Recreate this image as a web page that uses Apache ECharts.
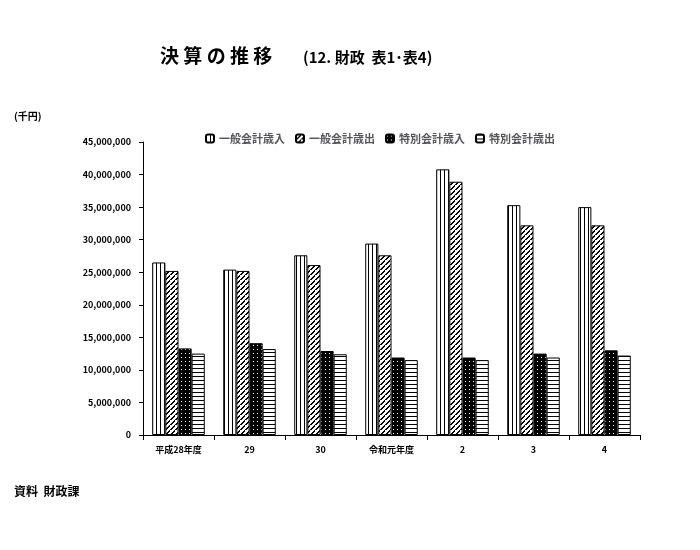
<!DOCTYPE html>
<html><head><meta charset="utf-8">
<script src="https://cdn.jsdelivr.net/npm/echarts@6/dist/echarts.min.js"></script>
<style>body{margin:0;background:#fff}#c{width:700px;height:550px}</style>
</head><body><div id="c"></div>
<script>
var categories = ['平成28年度', '29', '30', '令和元年度', '2', '3', '4'];
var seriesNames = ['一般会計歳入', '一般会計歳出', '特別会計歳入', '特別会計歳出'];
var ippanIn  = [26500000, 25400000, 27600000, 29400000, 40800000, 35300000, 35000000];
var ippanOut = [25200000, 25200000, 26100000, 27600000, 38900000, 32200000, 32200000];
var tokuIn   = [13300000, 14100000, 12900000, 11900000, 11900000, 12500000, 13000000];
var tokuOut  = [12500000, 13200000, 12400000, 11500000, 11500000, 11900000, 12200000];
var yTicks = [0, 5000000, 10000000, 15000000, 20000000, 25000000, 30000000, 35000000, 40000000, 45000000];

// 塗りパターン
function pat(kind) {
	var c = document.createElement('canvas');
	var s = 4;
	c.width = s; c.height = s;
	var g = c.getContext('2d');
	g.fillStyle = kind == 'dots' ? '#000' : '#fff';
	g.fillRect(0, 0, s, s);
	g.fillStyle = '#000';
	if (kind == 'vert') {
		g.fillRect(0, 0, 1, s);
	} else if (kind == 'horiz') {
		g.fillRect(0, 0, s, 1);
	} else if (kind == 'diag') {
		c.width = 5; c.height = 5;
		g = c.getContext('2d');
		g.fillStyle = '#fff'; g.fillRect(0, 0, 5, 5);
		g.fillStyle = '#000';
		for (var i = 0; i < 5; i++) { g.fillRect(4 - i, i, 2, 1); }
		g.fillRect(0, 4, 1, 1);
	} else if (kind == 'dots') {
		g.fillStyle = '#fff';
		g.fillRect(1, 1, 1, 1);
	}
	return { image: c, repeat: 'repeat' };
}
var fills = [pat('vert'), pat('diag'), pat('dots'), pat('horiz')];
var datas = [ippanIn, ippanOut, tokuIn, tokuOut];

var series = [];
for (var i = 0; i < 4; i++) {
	series.push({
		name: seriesNames[i],
		type: 'bar',
		barGap: 0,
		barCategoryGap: '26%',
		itemStyle: { color: fills[i], borderColor: '#000', borderWidth: 1 },
		data: datas[i]
	});
}

var chart = echarts.init(document.getElementById('c'));
chart.setOption({
	animation: false,
	textStyle: { fontFamily: 'Noto Sans CJK JP', color: '#000' },
	graphic: [
		{ type: 'text', left: 160, top: 46, style: { text: '決 算 の 推 移', font: 'bold 19px "Noto Sans CJK JP"', fill: '#000' } },
		{ type: 'text', left: 303, top: 50, style: { text: '(12. 財政  表1･表4)', font: 'bold 15px "Noto Sans CJK JP"', fill: '#000' } },
		{ type: 'text', left: 14, top: 111, style: { text: '(千円)', font: 'bold 10px "Noto Sans CJK JP"', fill: '#000' } },
		{ type: 'text', left: 14, top: 485, style: { text: '資料  財政課', font: 'bold 12px "Noto Sans CJK JP"', fill: '#000' } }
	],
	legend: {
		top: 128, left: 200,
		itemWidth: 8, itemHeight: 8, itemGap: 10,
		textStyle: { fontSize: 11, fontWeight: 'bold' },
		data: seriesNames
	},
	grid: { left: 143, right: 60, top: 142, bottom: 115 },
	xAxis: {
		type: 'category',
		data: categories,
		axisLine: { lineStyle: { color: '#000' } },
		axisTick: { show: true, alignWithLabel: false, lineStyle: { color: '#000' } },
		axisLabel: { color: '#000', fontSize: 9, fontWeight: 'bold', interval: 0, margin: 10 }
	},
	yAxis: {
		type: 'value',
		min: 0, max: yTicks[yTicks.length - 1], interval: yTicks[1] - yTicks[0],
		axisLine: { show: true, lineStyle: { color: '#000' } },
		axisTick: { show: true, inside: false, length: 4, lineStyle: { color: '#000' } },
		splitLine: { show: false },
		axisLabel: { color: '#000', fontSize: 9, fontWeight: 'bold', margin: 12,
			formatter: function (v) { return v.toLocaleString('en-US'); } }
	},
	series: series
});
</script></body></html>
